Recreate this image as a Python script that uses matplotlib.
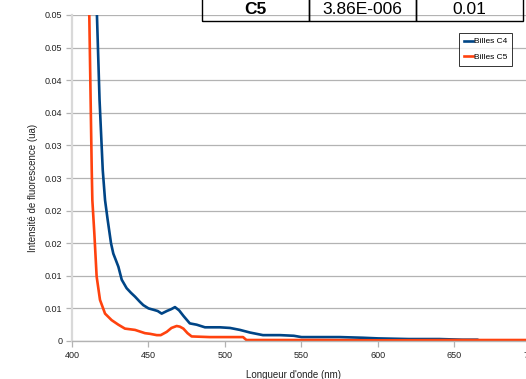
import matplotlib
matplotlib.use('Agg')
from matplotlib import pyplot as plt

plt.rcParams['font.family'] = ['Liberation Sans', 'DejaVu Sans']

# spectra (nm, intensity)
wl_c4 = [412, 414, 416.3, 418, 420.1, 421.6, 423.3, 425.5, 427, 428.5, 430.3, 432.5,
         435.7, 438.5, 441.2, 444.4, 446.6, 450, 453.1, 456, 458.6, 462, 465, 467.3,
         470, 473, 477, 481.5, 486.9, 496.7, 503.3, 509.8, 516.3, 524.8, 536, 545,
         550, 575, 590, 600, 620, 640, 655, 665, 667, 700]
int_c4 = [0.12, 0.08, 0.05, 0.037, 0.0262, 0.0216, 0.0186, 0.015, 0.0134, 0.0125, 0.0114, 0.0094,
          0.0081, 0.0074, 0.0068, 0.006, 0.0055, 0.005, 0.0048, 0.0046, 0.0042, 0.0046, 0.0049, 0.0052,
          0.0047, 0.0038, 0.0027, 0.0025, 0.0021, 0.0021, 0.002, 0.0017, 0.0013, 0.0009, 0.0009, 0.0008,
          0.0006, 0.0006, 0.0005, 0.0004, 0.0003, 0.0003, 0.0002, 0.0002, 0.0, 0.0]

wl_c5 = [408, 410, 411.3, 412.9, 413.3, 414.6, 416.1, 418.3, 421.6, 425.9, 430.3, 434.6,
         441.2, 447.7, 451, 455.4, 458, 461.9, 465, 468.4, 470.5, 472.8, 475.5, 478.2,
         490, 511.8, 514, 560, 600, 650, 700]
int_c5 = [0.12, 0.08, 0.05, 0.0262, 0.0216, 0.0165, 0.0099, 0.0063, 0.0042, 0.0032, 0.0025, 0.0019,
          0.0017, 0.0012, 0.0011, 0.0009, 0.0009, 0.0014, 0.002, 0.0023, 0.0022, 0.0019, 0.0012, 0.0007,
          0.0006, 0.0006, 0.00015, 0.00015, 0.0001, 0.00015, 0.00015]

y_ticks = [0, 0.005, 0.01, 0.015, 0.02, 0.025, 0.03, 0.035, 0.04, 0.045, 0.05]
y_labels = ['0', '0.01', '0.01', '0.02', '0.02', '0.03', '0.03', '0.04', '0.04', '0.05', '0.05']
x_ticks = [400, 450, 500, 550, 600, 650, 700]

table_row = ['C5', '3.86E-006', '0.01']

W, H = 526, 379
fig = plt.figure(figsize=(W / 100, H / 100), dpi=100)
ax = fig.add_axes([72 / W, 38 / H, (531 - 72) / W, 326 / H])

ax.plot(wl_c4, int_c4, color='#004586', lw=1.9, label='Billes C4', solid_joinstyle='round')
ax.plot(wl_c5, int_c5, color='#ff420e', lw=1.9, label='Billes C5', solid_joinstyle='round')

ax.set_xlim(400, 700)
ax.set_ylim(0, 0.05)
ax.set_yticks(y_ticks)
ax.set_yticklabels(y_labels)
ax.set_xticks(x_ticks)
ax.grid(axis='y', color='#b3b3b3', lw=0.9)
ax.set_axisbelow(True)
for s in ['top', 'right']:
    ax.spines[s].set_visible(False)
ax.spines['left'].set_color('#d9d9d9')
ax.spines['left'].set_linewidth(1.6)
ax.spines['bottom'].set_color('#b3b3b3')
ax.spines['bottom'].set_linewidth(1.0)
ax.tick_params(axis='both', colors='#b3b3b3', length=4, width=0.9, labelsize=6.5,
               labelcolor='#222222', pad=3)

fig.text(33 / W, 1 - 188 / H, 'Intensité de fluorescence (ua)', rotation=90,
         ha='center', va='center', fontsize=7, color='#222222')
fig.text(293 / W, 1 - 375 / H, "Longueur d'onde (nm)", ha='center', va='center',
         fontsize=7, color='#222222')

leg = fig.legend(loc='upper left', bbox_to_anchor=(459 / W, 1 - 33 / H), fontsize=6,
                 frameon=True, fancybox=False, handlelength=1.1, handletextpad=0.2,
                 borderpad=0.55, labelspacing=0.95, borderaxespad=0)
leg.get_frame().set_edgecolor('black')
leg.get_frame().set_linewidth(0.7)

# piece of the table cut at the top of the picture
col_edges = [202, 309, 416, 523]
for i in range(3):
    x0, x1 = col_edges[i], col_edges[i + 1]
    fig.patches.append(plt.Rectangle((x0 / W, 1 - 21 / H), (x1 - x0) / W, 30 / H,
                                     transform=fig.transFigure, fill=False,
                                     edgecolor='black', lw=1.0))
    fig.text((x0 + x1) / 2 / W, 1 - 9 / H, table_row[i], ha='center', va='center',
             fontsize=12.5, fontweight='bold' if i == 0 else 'normal', color='black')

fig.savefig('out.png', dpi=100)
